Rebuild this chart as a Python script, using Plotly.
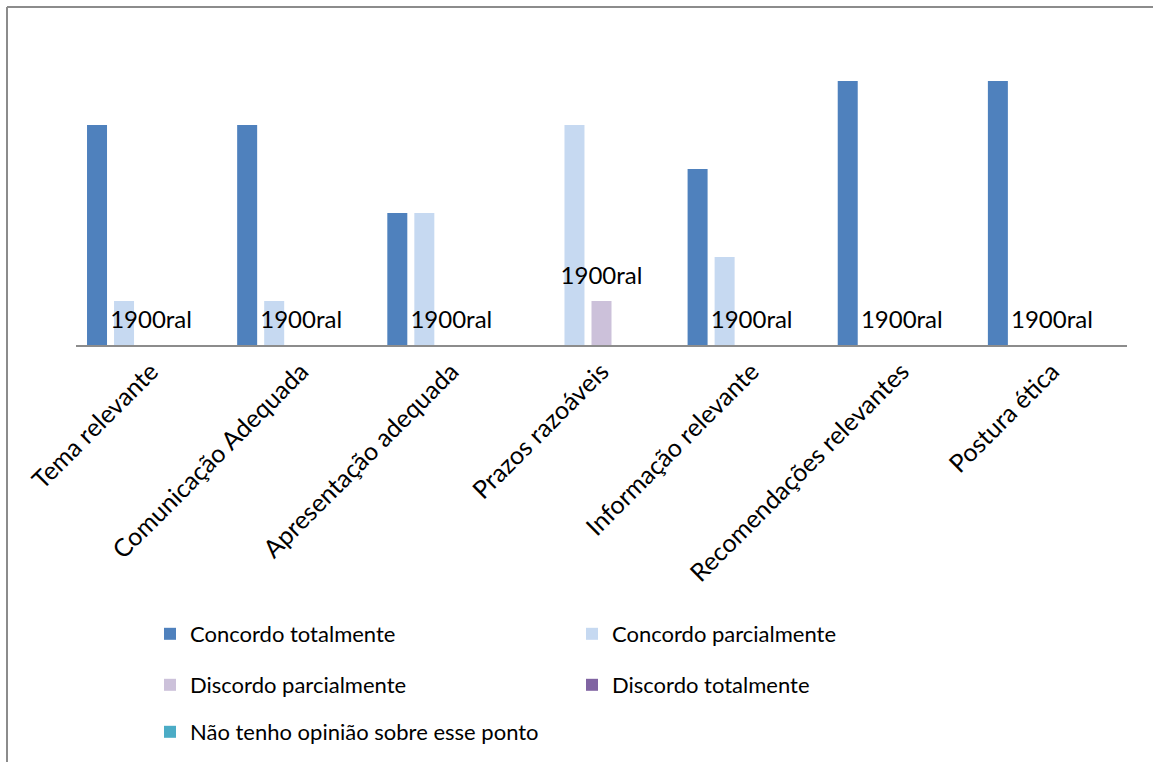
import plotly.graph_objects as go

categories = ["Tema relevante", "Comunicação Adequada", "Apresentação adequada",
              "Prazos razoáveis", "Informação relevante", "Recomendações relevantes",
              "Postura ética"]

concordo_total = [5, 5, 3, 0, 4, 6, 6]
concordo_parcial = [1, 1, 3, 5, 2, 0, 0]
discordo_parcial = [0, 0, 0, 1, 0, 0, 0]
discordo_total = [0, 0, 0, 0, 0, 0, 0]
sem_opiniao = [0, 0, 0, 0, 0, 0, 0]

label_text = "1900ral"

series = [
    ("Concordo totalmente", concordo_total, "#4F81BD", "legend"),
    ("Concordo parcialmente", concordo_parcial, "#C6D9F1", "legend"),
    ("Discordo parcialmente", discordo_parcial, "#CCC1DA", "legend2"),
    ("Discordo totalmente", discordo_total, "#8064A2", "legend2"),
    ("Não tenho opinião sobre esse ponto", sem_opiniao, "#4BACC6", "legend3"),
]

FONT = "Lato, 'Noto Sans', sans-serif"
W, H = 1153, 762

fig = go.Figure()

for name, vals, col, leg in series:
    fig.add_trace(go.Bar(
        x=categories,
        y=vals,
        name=name,
        marker=dict(color=col, line=dict(width=0)),
        legend=leg,
        hoverinfo="skip"
    ))

# labels of the "Discordo parcialmente" bars (middle slot = category centre)
fig.add_trace(go.Scatter(
    x=categories,
    y=discordo_parcial,
    mode="markers+text",
    text=[label_text] * len(categories),
    textposition="top center",
    textfont=dict(family=FONT, size=24, color="black"),
    marker=dict(size=16, color="rgba(0,0,0,0)"),
    showlegend=False,
    hoverinfo="skip",
    cliponaxis=False
))

legend_base = dict(
    orientation="h",
    xref="container",
    yref="container",
    x=150 / W,
    xanchor="left",
    yanchor="middle",
    entrywidth=377,
    font=dict(family=FONT, size=22, color="black"),
    bgcolor="rgba(0,0,0,0)",
    itemclick=False,
    itemdoubleclick=False
)

# chart frame: only the left and top edges show in the picture
frame_line = dict(color="#8c8c8c", width=2)
frame_x = -69 / 1051
frame_y = 1 + 30 / 308

fig.update_layout(
    width=W,
    height=H,
    margin=dict(l=76, r=26, t=37, b=417),
    paper_bgcolor="white",
    plot_bgcolor="white",
    barmode="group",
    bargap=0.1,
    bargroupgap=0.26,
    font=dict(family=FONT, color="black"),
    xaxis=dict(
        showline=True,
        linecolor="#8c8c8c",
        linewidth=2,
        ticks="",
        tickangle=-45,
        tickfont=dict(family=FONT, size=25, color="black"),
        showgrid=False
    ),
    yaxis=dict(range=[0, 7], visible=False, showgrid=False),
    legend=dict(legend_base, y=1 - 634 / H),
    legend2=dict(legend_base, y=1 - 685 / H),
    legend3=dict(legend_base, y=1 - 732 / H),
    shapes=[
        dict(type="line", xref="paper", yref="paper",
             x0=frame_x, x1=frame_x, y0=-2, y1=frame_y, line=frame_line),
        dict(type="line", xref="paper", yref="paper",
             x0=frame_x, x1=1.2, y0=frame_y, y1=frame_y, line=frame_line),
    ]
)

# drop the page margin so the figure fills the window exactly
fig.write_html(
    "out.html",
    config={"displayModeBar": False},
    post_script="document.body.style.margin='0';document.body.style.overflow='hidden';"
)
